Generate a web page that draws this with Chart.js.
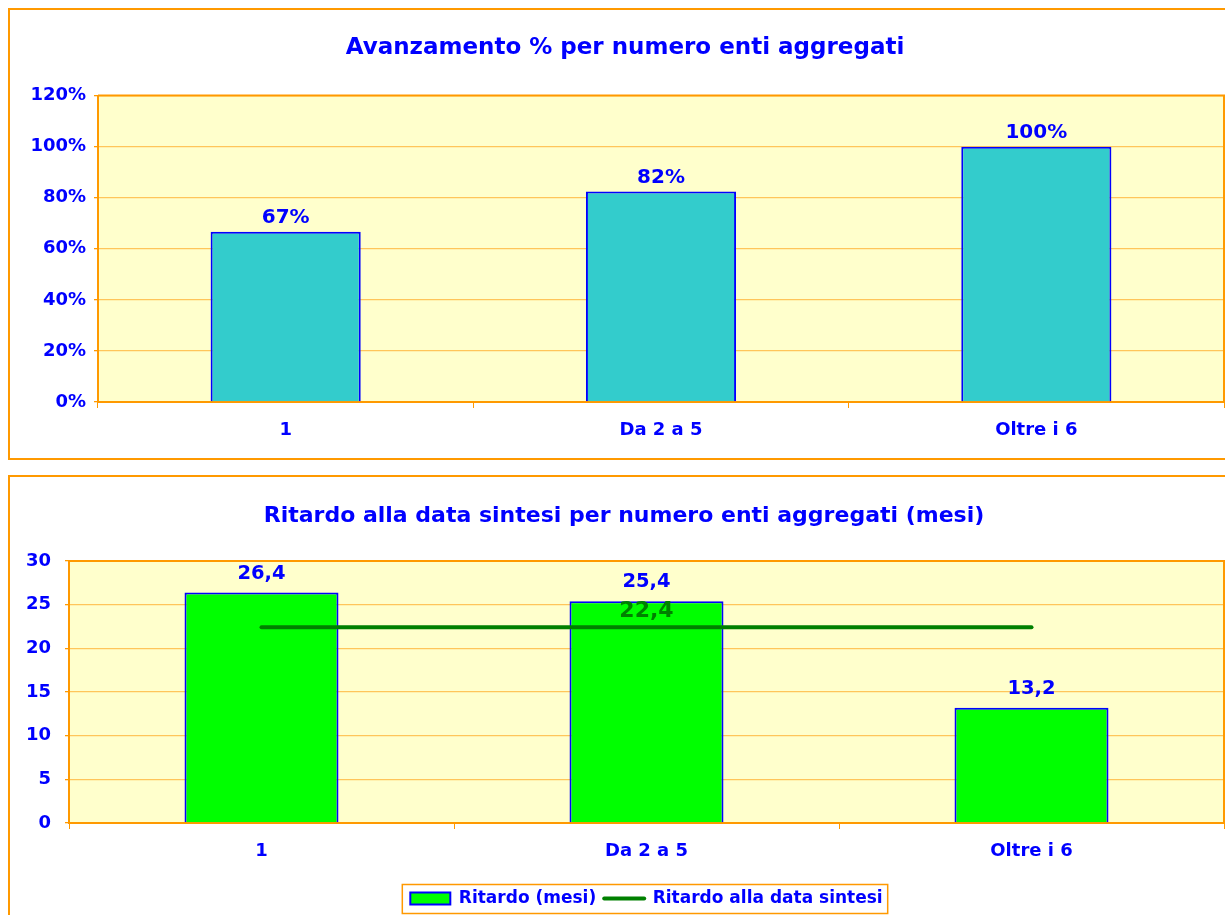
<!DOCTYPE html>
<html lang="it">
<head>
<meta charset="utf-8">
<title>Avanzamento e ritardo per numero enti aggregati</title>
<script src="https://cdn.jsdelivr.net/npm/chart.js@4.4.1/dist/chart.umd.min.js"></script>
<style>
  html, body { margin: 0; padding: 0; background: #fff; overflow: hidden; }
  body { width: 1225px; height: 915px; position: relative; }
  .box { position: absolute; left: 8px; border: 2px solid #FF9900; }
  #boxTop { top: 8px; width: 1240px; height: 448px; }
  #boxBottom { top: 475px; width: 1240px; height: 460px; }
  canvas { display: block; }
</style>
</head>
<body>
<div class="box" id="boxTop"><canvas id="chartTop" width="1240" height="448"></canvas></div>
<div class="box" id="boxBottom"><canvas id="chartBottom" width="1240" height="446"></canvas></div>

<script>
// ── Dati ───────────────────────────────────────────────
const categorie = ['1', 'Da 2 a 5', 'Oltre i 6'];
const avanzamento = [66.7, 82.4, 100];          // %
const ritardoMesi = [26.4, 25.4, 13.2];         // mesi
const ritardoSintesi = [22.4, 22.4, 22.4];      // mesi, riferimento
const tickPercentuali = [0, 20, 40, 60, 80, 100, 120];
const tickMesi = [0, 5, 10, 15, 20, 25, 30];

// ── Stile ──────────────────────────────────────────────
const BLU = '#0000FF';
const ARANCIO = '#FF9900';
const GRIGLIA = '#FFC55A';
const SFONDO = '#FFFFCC';
const FONT = 'DejaVu Sans';

Chart.defaults.font.family = FONT;
Chart.defaults.color = BLU;

const fmtVirgola = (v) => v.toFixed(1).replace('.', ',');

// sfondo giallo e cornice dell'area del grafico
const plotFrame = {
  id: 'plotFrame',
  beforeDraw(chart) {
    const { ctx, chartArea: a } = chart;
    ctx.save();
    ctx.fillStyle = SFONDO;
    ctx.fillRect(a.left, a.top, a.width, a.height);
    ctx.restore();
  },
  beforeDatasetsDraw(chart) {
    const { ctx, chartArea: a } = chart;
    ctx.save();
    ctx.strokeStyle = ARANCIO;
    ctx.lineWidth = 2;
    ctx.beginPath();
    ctx.moveTo(a.left, a.top);
    ctx.lineTo(a.right, a.top);
    ctx.lineTo(a.right, a.bottom);
    ctx.stroke();
    ctx.restore();
  },
};

// etichette dei valori sopra barre / linea
const valueLabels = {
  id: 'valueLabels',
  afterDatasetsDraw(chart) {
    const ctx = chart.ctx;
    chart.data.datasets.forEach((ds, di) => {
      const lab = ds.valueLabel;
      if (!lab) return;
      const meta = chart.getDatasetMeta(di);
      meta.data.forEach((el, i) => {
        if (lab.only != null && lab.only !== i) return;
        ctx.save();
        ctx.font = lab.font;
        ctx.fillStyle = lab.color;
        ctx.textAlign = 'center';
        ctx.textBaseline = 'middle';
        ctx.fillText(lab.format(ds.data[i]), el.x, el.y - lab.offset);
        ctx.restore();
      });
    });
  },
};

// cornice della legenda
const legendFrame = {
  id: 'legendFrame',
  afterDraw(chart) {
    const lg = chart.legend;
    if (!lg || !lg.legendHitBoxes || !lg.legendHitBoxes.length) return;
    const hb = lg.legendHitBoxes;
    const x0 = Math.min(...hb.map(h => h.left)) - 8;
    const x1 = Math.max(...hb.map(h => h.left + h.width)) + 5;
    const cy = hb[0].top + hb[0].height / 2;
    const ctx = chart.ctx;
    ctx.save();
    ctx.strokeStyle = ARANCIO;
    ctx.lineWidth = 1.5;
    ctx.strokeRect(x0, cy - 14, x1 - x0, 29);
    ctx.restore();
  },
};

function yAxis(ticksList, fmt, width, pad) {
  return {
    min: ticksList[0],
    max: ticksList[ticksList.length - 1],
    afterBuildTicks: (s) => { s.ticks = ticksList.map(v => ({ value: v })); },
    afterFit: (s) => { s.width = width; },
    border: { color: ARANCIO, width: 2 },
    grid: { color: GRIGLIA, tickColor: ARANCIO, tickLength: 4, lineWidth: 1.3 },
    ticks: {
      color: BLU,
      padding: pad,
      font: { size: 18, weight: 'bold' },
      callback: fmt,
    },
  };
}

function xAxis(height) {
  return {
    afterFit: (s) => { s.height = height; },
    border: { color: ARANCIO, width: 2 },
    grid: { drawOnChartArea: false, color: ARANCIO, tickLength: 6, offset: true },
    ticks: { color: BLU, padding: 12, font: { size: 18, weight: 'bold' } },
  };
}

// ── Grafico 1: avanzamento % ───────────────────────────
new Chart(document.getElementById('chartTop'), {
  type: 'bar',
  data: {
    labels: categorie,
    datasets: [{
      label: 'Avanzamento %',
      data: avanzamento,
      backgroundColor: '#33CCCC',
      borderColor: BLU,
      borderWidth: 2,
      barPercentage: 0.4,
      categoryPercentage: 1.0,
      valueLabel: {
        font: 'bold 20px ' + FONT,
        color: BLU,
        offset: 14,
        format: (v) => Math.round(v) + '%',
      },
    }],
  },
  options: {
    responsive: false,
    animation: false,
    layout: { padding: { left: 16, right: 26, top: 0, bottom: 0 } },
    plugins: {
      legend: { display: false },
      tooltip: { enabled: false },
      title: {
        display: true,
        text: 'Avanzamento % per numero enti aggregati',
        color: BLU,
        font: { size: 23, weight: 'bold' },
        padding: { top: 24, bottom: 34 },
      },
    },
    scales: {
      x: xAxis(56),
      y: yAxis(tickPercentuali, (v) => v + '%', 72, 8),
    },
  },
  plugins: [plotFrame, valueLabels],
});

// ── Grafico 2: ritardo in mesi ─────────────────────────
new Chart(document.getElementById('chartBottom'), {
  data: {
    labels: categorie,
    datasets: [{
      type: 'line',
      label: 'Ritardo alla data sintesi',
      data: ritardoSintesi,
      borderColor: '#008000',
      backgroundColor: '#008000',
      borderWidth: 4,
      borderCapStyle: 'round',
      pointRadius: 0,
      order: 0,
      valueLabel: {
        only: 1,
        font: 'bold 22px ' + FONT,
        color: '#008000',
        offset: 16,
        format: fmtVirgola,
      },
    }, {
      type: 'bar',
      label: 'Ritardo (mesi)',
      data: ritardoMesi,
      backgroundColor: '#00FF00',
      borderColor: BLU,
      borderWidth: 2,
      barPercentage: 0.4,
      categoryPercentage: 1.0,
      order: 1,
      valueLabel: {
        font: 'bold 19.5px ' + FONT,
        color: BLU,
        offset: 19,
        format: fmtVirgola,
      },
    }],
  },
  options: {
    responsive: false,
    animation: false,
    layout: { padding: { left: 14, right: 26, top: 0, bottom: 6 } },
    plugins: {
      tooltip: { enabled: false },
      title: {
        display: true,
        text: 'Ritardo alla data sintesi per numero enti aggregati (mesi)',
        color: BLU,
        font: { size: 22, weight: 'bold' },
        padding: { top: 26, bottom: 31.6 },
      },
      legend: {
        position: 'bottom',
        fullSize: false,
        labels: {
          color: BLU,
          font: { size: 17, weight: 'bold' },
          usePointStyle: true,
          pointStyleWidth: 40,
          boxHeight: 12,
          padding: 8,
          generateLabels: (chart) => [1, 0].map((i) => {
            const ds = chart.data.datasets[i];
            const isLine = ds.type === 'line';
            return {
              text: ds.label,
              datasetIndex: i,
              fillStyle: isLine ? ds.borderColor : ds.backgroundColor,
              strokeStyle: ds.borderColor,
              lineWidth: isLine ? 4 : 2,
              lineCap: 'round',
              pointStyle: isLine ? 'line' : 'rect',
              fontColor: BLU,
              hidden: false,
            };
          }),
        },
      },
    },
    scales: {
      x: xAxis(59),
      y: yAxis(tickMesi, (v) => v, 45, 14),
    },
  },
  plugins: [plotFrame, valueLabels, legendFrame],
});
</script>
</body>
</html>
